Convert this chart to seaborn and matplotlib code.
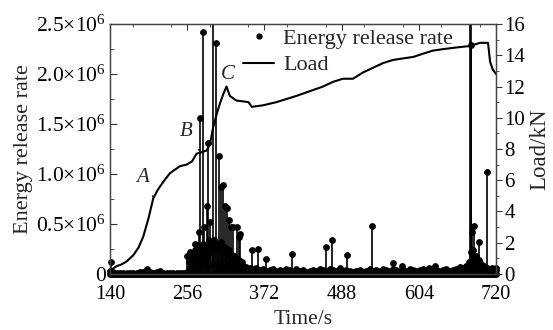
#!/usr/bin/env python3
"""
Energy release rate (stems) and load curve versus time, saved as out.png.
"""
import numpy as np
import pandas as pd
import matplotlib
matplotlib.use("Agg")
import matplotlib.pyplot as plt
from matplotlib.lines import Line2D
from matplotlib.ticker import MultipleLocator, FixedLocator, FuncFormatter
import seaborn as sns

# ---- data ----
# load curve (time in s, load in kN)
load_time = [140, 143, 150, 157, 165, 175, 183, 190, 198, 205, 212, 220, 230, 245,
             255, 263, 270, 278, 285, 290, 295, 300, 305, 310, 315, 320, 330, 340,
             348, 353, 362, 370, 380, 390, 405, 420, 440, 460, 475, 490, 505, 520,
             535, 550, 565, 580, 596, 610, 625, 641, 660, 681, 696, 708, 711, 715, 720]
load_kN = [0.1, 0.3, 0.5, 0.6, 0.8, 1.2, 1.7, 2.4, 3.6, 4.85, 5.4, 5.9, 6.45, 6.9,
           7.0, 7.2, 7.7, 7.8, 7.9, 8.3, 9.4, 10.2, 10.9, 11.5, 12.0, 11.4, 11.1, 11.05,
           11.0, 10.7, 10.75, 10.8, 10.9, 11.0, 11.2, 11.4, 11.7, 12.0, 12.3, 12.5, 12.5, 12.9,
           13.2, 13.5, 13.7, 13.8, 13.9, 14.1, 14.3, 14.4, 14.5, 14.6, 14.8, 14.8, 13.6, 13.1, 12.8]

# isolated energy release rate peaks (time in s, value in 1e6)
spike_time = [142, 261, 268, 274, 275, 280, 281, 286, 287, 290, 295, 299, 304, 307,
              309, 312, 315, 318, 322, 324, 331, 334, 336, 353, 362, 375, 413, 465,
              473, 496, 533, 565, 578, 628, 666, 681, 683, 682.5, 684, 687, 695, 706]
spike_value = [0.12, 0.21, 0.30, 0.42, 1.56, 2.42, 0.47, 0.68, 1.31, 0.52, 3.00, 2.31, 1.18, 0.87,
               0.89, 0.68, 0.66, 0.54, 0.47, 0.47, 0.47, 0.37, 0.40, 0.24, 0.25, 0.15, 0.20, 0.27,
               0.34, 0.19, 0.48, 0.11, 0.08, 0.08, 0.07, 3.00, 3.00, 2.29, 0.42, 0.48, 0.32, 1.02]

# dense burst after 256 s (every 2 s, value in 1e4)
burst1_value = [18, 12, 22, 16, 20, 14, 24, 18, 28, 20, 24, 16, 30, 20, 28, 24, 34, 22,
                30, 26, 34, 24, 30, 28, 26, 32, 22, 28, 24, 26, 20, 24, 18, 20, 16, 18,
                14, 16, 12, 14, 10, 12, 8]
# dense burst near the end (every 2 s from 676 s, value in 1e4)
burst2_value = [4, 6, 12, 22, 16, 24, 14, 18, 10, 14, 8, 10, 6, 8, 5, 6, 4, 5, 4, 6, 4, 5, 4]
# background activity (every 5 s from 140 s, value in 1e4)
base_value = [3, 2, 1, 1, 1, 1, 1, 1, 1, 2, 2, 5, 2, 1, 2, 3, 1, 1, 1, 1, 1, 1, 1, 2,
              6, 8, 10, 7, 9, 12, 8, 10, 9, 11,
              8, 10, 7, 9, 6, 8, 5, 7, 6, 5,
              6, 4, 5, 3, 4, 5, 3, 4, 3, 5,
              4, 3, 5, 3, 4, 2, 3, 4, 3, 5,
              4, 3, 5, 4, 3, 6, 3, 4, 3, 2,
              3, 4, 2, 3, 5, 3, 4, 3, 5, 4,
              3, 5, 4, 3, 4, 3, 5, 4, 3, 4,
              5, 4, 6, 3, 4, 3, 4, 5, 3, 4,
              5, 4, 6, 8, 10, 8, 6, 7, 5, 6,
              5, 4, 6]

x_ticks = [140, 256, 372, 488, 604, 720]


def sci_label(v, pos):
    if v == 0:
        return "0"
    return f"{v / 1e6:.1f}×10$^{{6}}$"


def main(out_path="out.png"):
    sns.set_style("ticks")
    plt.rcParams["font.family"] = ["Liberation Serif", "DejaVu Serif"]
    plt.rcParams["mathtext.fontset"] = "custom"
    plt.rcParams["mathtext.rm"] = "Liberation Serif"
    plt.rcParams["mathtext.default"] = "regular"
    plt.rcParams["font.size"] = 15

    # assemble the energy release rate events
    b1_t = np.arange(256, 256 + 2 * len(burst1_value), 2)
    b2_t = np.arange(676, 676 + 2 * len(burst2_value), 2)
    bg_t = np.arange(140, 140 + 5 * len(base_value), 5)
    err = pd.DataFrame({
        "time": np.concatenate([bg_t, b1_t, b2_t, spike_time]),
        "rate": np.concatenate([np.array(base_value) * 1e4,
                                np.array(burst1_value) * 1e4,
                                np.array(burst2_value) * 1e4,
                                np.array(spike_value) * 1e6]),
    })
    # off-scale peaks only show as lines running through the top
    dots = err[err["rate"] <= 2.5e6]
    load = pd.DataFrame({"time": load_time, "load": load_kN})

    fig, ax = plt.subplots(figsize=(5.53, 3.3), dpi=100)
    fig.subplots_adjust(left=0.199, right=0.897, top=0.927, bottom=0.170)
    ax2 = ax.twinx()

    # stems + dots
    ax.vlines(err["time"], 0, err["rate"], color="black", lw=1.2)
    ax.axhline(0, color="black", lw=5, clip_on=False)
    sns.scatterplot(data=dots, x="time", y="rate", ax=ax, color="black",
                    s=24, edgecolor="black", linewidth=0, legend=False, clip_on=False)

    sns.lineplot(data=load, x="time", y="load", ax=ax2, color="black",
                 lw=1.5, legend=False)

    ax.set_xlim(140, 720)
    ax.set_ylim(0, 2.5e6)
    ax2.set_ylim(0, 16)

    ax.xaxis.set_major_locator(FixedLocator(x_ticks))
    ax.xaxis.set_minor_locator(MultipleLocator(58))
    ax.yaxis.set_major_locator(MultipleLocator(0.5e6))
    ax.yaxis.set_minor_locator(MultipleLocator(0.25e6))
    ax.yaxis.set_major_formatter(FuncFormatter(sci_label))
    ax2.yaxis.set_major_locator(MultipleLocator(2))
    ax2.yaxis.set_minor_locator(MultipleLocator(1))

    ax.tick_params(axis="x", which="both", direction="in", top=True, colors="#333333",
                   labelcolor="black", pad=8, labelsize=14.5)
    ax.tick_params(axis="x", which="major", length=4)
    ax.tick_params(axis="x", which="minor", length=2)
    ax.tick_params(axis="y", which="both", direction="in", right=False, colors="#333333",
                   labelcolor="black", pad=3, labelsize=15.5)
    ax.tick_params(axis="y", which="major", length=5)
    ax.tick_params(axis="y", which="minor", length=3)
    ax2.tick_params(axis="y", which="both", direction="out", colors="#333333",
                    labelcolor="black", pad=2, labelsize=15)
    ax2.tick_params(axis="y", which="major", length=4)
    ax2.tick_params(axis="y", which="minor", length=2)
    for a in (ax, ax2):
        for sp in a.spines.values():
            sp.set_color("#444444")
            sp.set_linewidth(0.9)

    ax.set_xlabel("Time/s", labelpad=4, fontsize=15.5)
    ax.set_ylabel("Energy release rate", labelpad=2, fontsize=16)
    ax2.set_ylabel("Load/kN", labelpad=3, fontsize=16.5)

    # point labels on the load curve
    ax2.annotate("A", xy=(205, 4.9), xytext=(189, 6.15), style="italic",
                 ha="center", va="center",
                 arrowprops=dict(arrowstyle="-", lw=0.7, color="black", shrinkA=4, shrinkB=0))
    ax2.annotate("B", xy=(275, 7.83), xytext=(254, 9.1), style="italic",
                 ha="center", va="center",
                 arrowprops=dict(arrowstyle="-", lw=0.7, color="black", shrinkA=4, shrinkB=0))
    ax2.text(317, 12.75, "C", style="italic", ha="center", va="center")

    handles = [
        Line2D([], [], color="black", marker="o", markersize=3.5, ls="none"),
        Line2D([], [], color="black", lw=1.5),
    ]
    ax2.legend(handles, ["Energy release rate", "Load"], loc="upper left",
               bbox_to_anchor=(0.31, 1.035), frameon=False, handlelength=1.4,
               handletextpad=0.4, labelspacing=0.25, borderaxespad=0.2, fontsize=16)

    fig.savefig(out_path, dpi=100)
    plt.close(fig)


if __name__ == "__main__":
    main()
